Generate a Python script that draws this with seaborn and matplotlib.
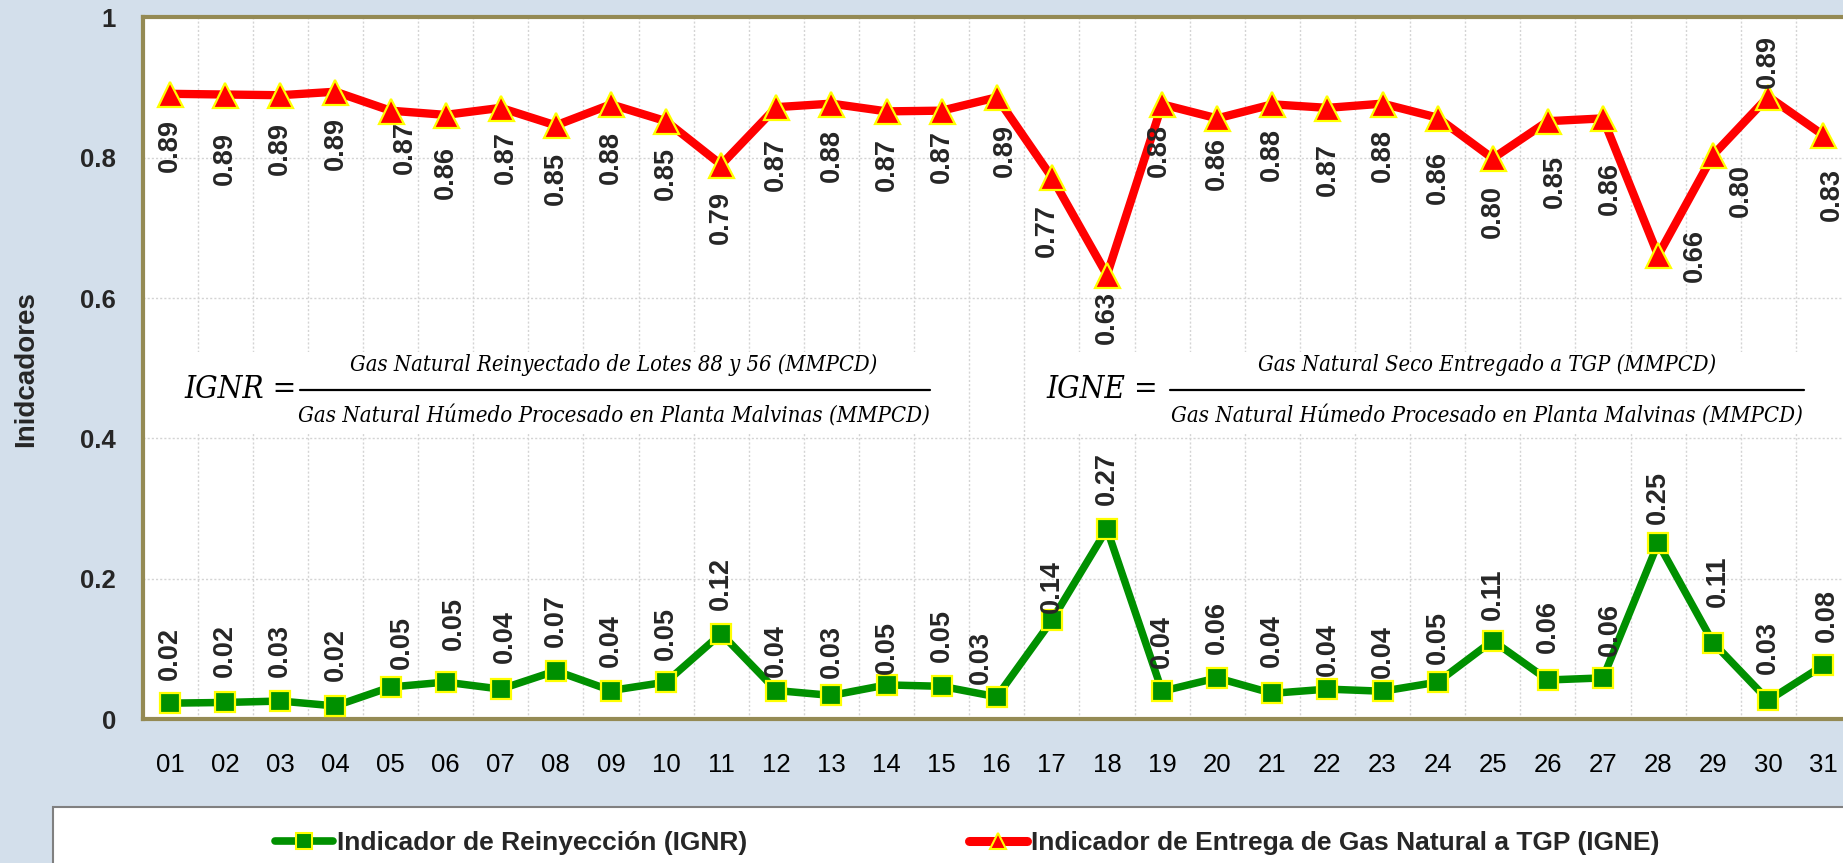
import os
import matplotlib
matplotlib.use("Agg")
import matplotlib.pyplot as plt
import matplotlib.font_manager as fm
from matplotlib.font_manager import FontProperties
import numpy as np
import pandas as pd
import seaborn as sns
from matplotlib.patches import Rectangle
from matplotlib.lines import Line2D

# ---------------- data ----------------
days = ["01", "02", "03", "04", "05", "06", "07", "08", "09", "10",
        "11", "12", "13", "14", "15", "16", "17", "18", "19", "20",
        "21", "22", "23", "24", "25", "26", "27", "28", "29", "30", "31"]
ignr = [0.023, 0.024, 0.026, 0.019, 0.046, 0.053, 0.043, 0.069, 0.041, 0.053,
        0.122, 0.041, 0.034, 0.049, 0.047, 0.032, 0.141, 0.271, 0.040, 0.059,
        0.037, 0.043, 0.040, 0.053, 0.112, 0.056, 0.059, 0.251, 0.109, 0.027, 0.077]
igne = [0.891, 0.890, 0.889, 0.894, 0.867, 0.861, 0.871, 0.846, 0.876, 0.852,
        0.790, 0.872, 0.877, 0.866, 0.867, 0.886, 0.772, 0.633, 0.876, 0.856,
        0.876, 0.871, 0.877, 0.857, 0.799, 0.852, 0.856, 0.661, 0.804, 0.887, 0.832]
yticks = [0, 0.2, 0.4, 0.6, 0.8, 1.0]
ytick_labels = ["0", "0.2", "0.4", "0.6", "0.8", "1"]
name_ignr = "Indicador de Reinyección (IGNR)"
name_igne = "Indicador de Entrega de Gas Natural a TGP (IGNE)"
ylabel = "Inidcadores"
f1_lhs = "IGNR ="
f1_num = "Gas Natural Reinyectado de Lotes 88 y 56 (MMPCD)"
f1_den = "Gas Natural Húmedo Procesado en Planta Malvinas (MMPCD)"
f2_lhs = "IGNE ="
f2_num = "Gas Natural Seco Entregado a TGP (MMPCD)"
f2_den = "Gas Natural Húmedo Procesado en Planta Malvinas (MMPCD)"

# label offsets (pixels) – layout only
red_dy = [52, 64, 53, 52, 37, 58, 50, 53, 53, 52, 53, 57, 52, 53, 46, 53,
          53, 43, 46, 45, 50, 62, 52, 60, 53, 60, 70, 0, 36, -35, 59]
red_dx = [0, 0, 0, 0, 14, 0, 5, 0, 0, 0, 0, 0, 0, 0, 0, 8,
          -5, 0, -3, 0, 0, 0, 0, 0, 0, 7, 7, 37, 28, 0, 8]
grn_dy = [50, 52, 51, 51, 45, 59, 53, 50, 50, 49, 50, 40, 44, 37, 51, 39,
          34, 51, 50, 50, 53, 40, 40, 45, 46, 53, 48, 46, 62, 53, 50]
grn_dx = [0, 0, 0, 0, 11, 8, 4, 0, 0, 0, 0, 0, 0, 0, 0, -16,
          0, 0, 0, 0, 0, 0, 0, 0, 0, 0, 7, 0, 5, 0, 3]

df = pd.DataFrame({"Dia": days, "IGNR": ignr, "IGNE": igne})

# ---------------- style ----------------
sns.set_style("white")
plt.rcParams["font.family"] = ["Liberation Sans", "DejaVu Sans"]

W, H = 1843, 863
BG = "#D3DFEB"
OLIVE = "#948A54"
GREEN = "#009000"
RED = "#FF0000"
YEL = "#FFFF00"
GRID = "#D4D4D4"


def pick_formula_font():
    cond_words = ("narrow", "condensed", "cond")
    best = None
    for e in fm.fontManager.ttflist:
        nm = (e.name + " " + os.path.basename(e.fname)).lower()
        if "bold" in nm or "black" in nm or "light" in nm or "thin" in nm:
            continue
        if e.style not in ("italic", "oblique"):
            continue
        st = str(e.stretch).lower()
        is_cond = any(w in nm for w in cond_words) or "condensed" in st
        if not is_cond:
            continue
        score = 2 if "serif" in nm and "sans" not in nm else 1
        if best is None or score > best[0]:
            best = (score, e.fname)
    if best is not None:
        return FontProperties(fname=best[1])
    return FontProperties(family=["Liberation Serif", "DejaVu Serif"], style="italic")


FFP = pick_formula_font()

fig = plt.figure(figsize=(W / 100, H / 100), dpi=100, facecolor=BG)


def fx(x):
    return x / W


def fy(y):
    return 1 - y / H


ax = fig.add_axes([fx(142.5), fy(719.3), (1851 - 142.5) / W, 702 / H])
ax.set_facecolor("white")

sns.lineplot(data=df, x="Dia", y="IGNE", ax=ax, sort=False, color=RED, lw=6,
             marker="^", markersize=18, markerfacecolor=RED, markeredgecolor=YEL,
             markeredgewidth=1.6, zorder=4)
sns.lineplot(data=df, x="Dia", y="IGNR", ax=ax, sort=False, color=GREEN, lw=5.4,
             marker="s", markersize=14, markerfacecolor=GREEN, markeredgecolor=YEL,
             markeredgewidth=1.6, zorder=4)

ax.set_xlim(-0.5, len(days) - 0.5)
ax.set_ylim(0, 1)
ax.set_xticks(range(len(days)))
ax.set_xticklabels(days)
ax.set_xticks(np.arange(-0.5, len(days), 1), minor=True)
ax.set_yticks(yticks)
ax.set_yticklabels(ytick_labels)
ax.set_xlabel("")
ax.set_ylabel("")

ax.tick_params(axis="x", which="major", length=0, pad=24, labelsize=18.5, colors="black")
ax.tick_params(axis="x", which="minor", length=5, width=1.5, color=OLIVE, direction="out")
ax.tick_params(axis="y", which="major", length=5, width=1.5, color=OLIVE, direction="out",
               pad=14, labelsize=18.5)
for t in ax.get_yticklabels():
    t.set_fontweight("bold")

ax.set_axisbelow(True)
ax.grid(False)
ax.grid(which="minor", axis="x", ls=(0, (1.5, 1.5)), color=GRID, lw=1)
ax.grid(which="major", axis="y", ls=(0, (1.5, 1.5)), color=GRID, lw=1)

for s in ["top", "left", "bottom"]:
    ax.spines[s].set_color(OLIVE)
    ax.spines[s].set_linewidth(3)
ax.spines["right"].set_visible(False)

leg = ax.get_legend()
if leg is not None:
    leg.remove()

# data labels
for i, v in enumerate(igne):
    ax.annotate(f"{v:.2f}", (i, v), xytext=(red_dx[i], -red_dy[i]),
                textcoords="offset pixels", rotation=90, ha="center", va="center",
                fontsize=19.5, fontweight="bold", zorder=6)
for i, v in enumerate(ignr):
    ax.annotate(f"{v:.2f}", (i, v), xytext=(grn_dx[i], grn_dy[i]),
                textcoords="offset pixels", rotation=90, ha="center", va="center",
                fontsize=19.5, fontweight="bold", zorder=6)

# formula boxes
for (x0, x1) in [(175, 940), (1040, 1815)]:
    ax.add_patch(Rectangle((fx(x0), fy(432)), (x1 - x0) / W, 80 / H,
                           transform=fig.transFigure, facecolor="white",
                           edgecolor="none", zorder=1.5))

renderer = fig.canvas.get_renderer()


def fitted_size(s, target_w):
    fp = FFP.copy()
    fp.set_size(20)
    t = fig.text(0, 0, s, fontproperties=fp)
    w = t.get_window_extent(renderer).width
    t.remove()
    return 20 * target_w / w


def ftext(x, y, s, size, ha):
    fp = FFP.copy()
    fp.set_size(size)
    fig.text(fx(x), fy(y), s, fontproperties=fp, ha=ha, va="center", color="black")


lhs_size = fitted_size(f1_lhs, 112)
num_size = fitted_size(f1_num, 528)
den_size = fitted_size(f1_den, 630)

ftext(184, 389, f1_lhs, lhs_size, "left")
ftext(614, 365, f1_num, num_size, "center")
ftext(614, 416, f1_den, den_size, "center")
fig.add_artist(Line2D([fx(300), fx(930)], [fy(390), fy(390)], color="black", lw=1.6))

ftext(1046, 389, f2_lhs, lhs_size, "left")
ftext(1487, 365, f2_num, num_size, "center")
ftext(1487, 416, f2_den, den_size, "center")
fig.add_artist(Line2D([fx(1170), fx(1804)], [fy(390), fy(390)], color="black", lw=1.6))

# y label
fig.text(fx(26.5), fy(369), ylabel, rotation=90, fontsize=20, fontweight="bold",
         ha="center", va="center")

# legend box
fig.add_artist(Rectangle((fx(53), -0.02), 1.0, (H - 807) / H + 0.02,
                         transform=fig.transFigure, facecolor="white",
                         edgecolor="#808080", lw=1.5))
handles = [
    Line2D([], [], color=GREEN, lw=5.5, marker="s", markersize=12,
           markerfacecolor=GREEN, markeredgecolor=YEL, markeredgewidth=1.5,
           solid_capstyle="round"),
    Line2D([], [], color=RED, lw=6.5, marker="^", markersize=12,
           markerfacecolor=RED, markeredgecolor=YEL, markeredgewidth=1.5,
           solid_capstyle="round"),
]
fig.legend(handles, [name_ignr, name_igne], loc="center left",
           bbox_to_anchor=(fx(275), fy(843)), ncol=2, frameon=False,
           prop={"size": 19, "weight": "bold"}, handlelength=2.2,
           handletextpad=0.15, columnspacing=8.4, borderpad=0, borderaxespad=0)

fig.savefig("out.png", dpi=100, facecolor=BG)
